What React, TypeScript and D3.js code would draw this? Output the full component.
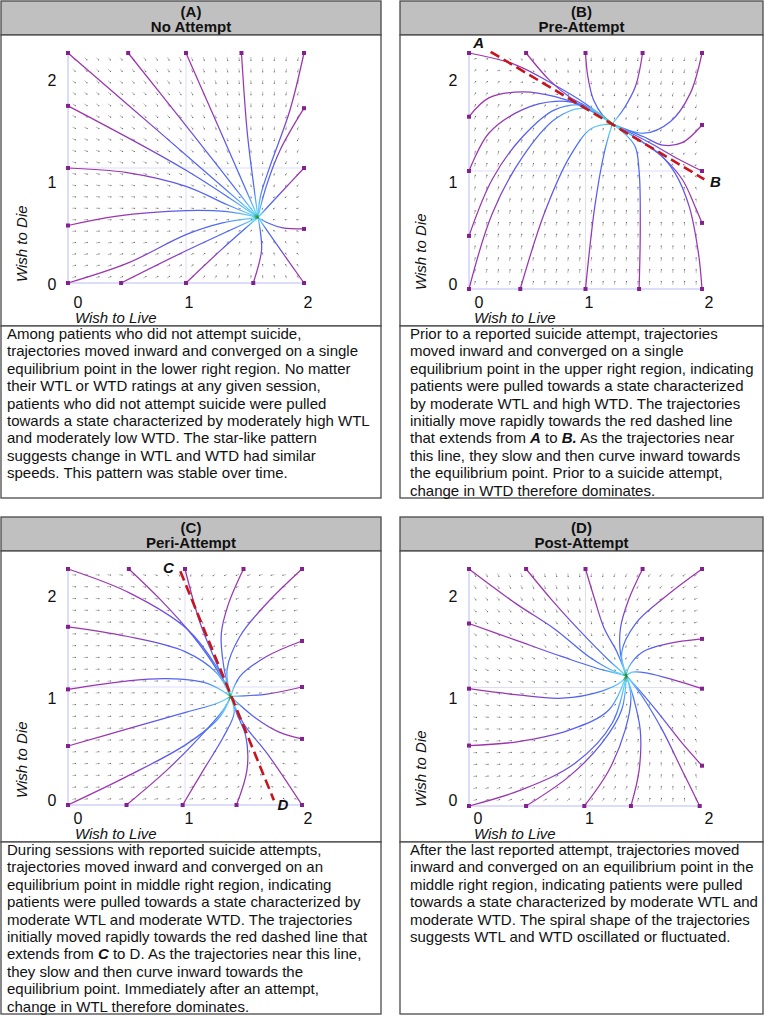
import React from 'react';
import * as d3 from 'd3';

type Pt = [number, number];

// ---------- data ----------
const panelLetters = ['(A)', '(B)', '(C)', '(D)'];
const panelTitles = ['No Attempt', 'Pre-Attempt', 'Peri-Attempt', 'Post-Attempt'];
const tickValues = [0, 1, 2];
const tickLabels = ['0', '1', '2'];
const xAxisTitle = 'Wish to Live';
const yAxisTitle = 'Wish to Die';
const fieldSamples = d3.range(0.05, 2, 0.1);

const equilibriumA: Pt = [1.61, 0.57];
const equilibriumB: Pt = [1.23, 1.4];
const equilibriumC: Pt = [1.39, 0.92];
const equilibriumD: Pt = [1.35, 1.1];

const jacobianA = [[-1, 0], [0, -1]];
const jacobianB = [[-0.39, -0.24], [-0.95, -1.86]];
const jacobianC = [[-1.93, -0.69], [-0.17, -0.32]];
const jacobianD = [[-1, -0.45], [0.45, -1]];

const trajectoriesA: Pt[][] = [
  [[0, 2], [0.8, 1.29], [1.61, 0.57]],
  [[0.51, 2], [1.06, 1.29], [1.61, 0.57]],
  [[1.0, 2], [1.3, 1.3], [1.61, 0.57]],
  [[1.47, 2], [1.52, 1.3], [1.58, 0.8], [1.61, 0.57]],
  [[2, 2], [1.88, 1.5], [1.71, 1.01], [1.63, 0.75], [1.61, 0.57]],
  [[2, 1.52], [1.8, 1.16], [1.68, 0.84], [1.61, 0.57]],
  [[2, 1.0], [1.8, 0.78], [1.61, 0.57]],
  [[2, 0.47], [1.82, 0.48], [1.7, 0.52], [1.61, 0.57]],
  [[2, 0], [1.8, 0.29], [1.61, 0.57]],
  [[1.57, 0], [1.64, 0.28], [1.63, 0.45], [1.61, 0.57]],
  [[1.0, 0], [1.3, 0.29], [1.61, 0.57]],
  [[0.45, 0], [1.0, 0.28], [1.61, 0.57]],
  [[0, 0], [0.5, 0.17], [1.0, 0.42], [1.3, 0.52], [1.61, 0.57]],
  [[0, 0.5], [0.4, 0.58], [1.0, 0.63], [1.35, 0.62], [1.61, 0.57]],
  [[0, 1.0], [0.5, 0.96], [1.0, 0.84], [1.35, 0.68], [1.61, 0.57]],
  [[0, 1.54], [1.0, 0.98], [1.61, 0.57]],
];

const trajectoriesB: Pt[][] = [
  [[0, 2], [0.4, 1.9], [0.75, 1.72], [1.0, 1.57], [1.23, 1.4]],
  [[0.49, 2], [0.69, 1.77], [0.86, 1.63], [1.06, 1.52], [1.23, 1.4]],
  [[1.0, 2], [1.02, 1.8], [1.07, 1.6], [1.15, 1.47], [1.23, 1.4]],
  [[1.49, 2], [1.43, 1.72], [1.33, 1.53], [1.23, 1.4]],
  [[2, 2], [1.9, 1.66], [1.73, 1.42], [1.5, 1.32], [1.23, 1.4]],
  [[2, 1.39], [1.83, 1.24], [1.66, 1.22], [1.5, 1.29], [1.23, 1.4]],
  [[2, 1.0], [1.8, 1.1], [1.55, 1.24], [1.23, 1.4]],
  [[2, 0.56], [1.94, 0.7], [1.83, 0.93], [1.66, 1.12], [1.45, 1.27], [1.23, 1.4]],
  [[2, 0], [1.97, 0.3], [1.89, 0.7], [1.77, 0.98], [1.63, 1.15], [1.45, 1.27], [1.23, 1.4]],
  [[1.46, 0], [1.47, 0.5], [1.46, 1.0], [1.42, 1.22], [1.23, 1.4]],
  [[1.0, 0], [1.08, 0.7], [1.16, 1.15], [1.23, 1.4]],
  [[0.44, 0], [0.65, 0.65], [0.87, 1.13], [1.05, 1.36], [1.23, 1.4]],
  [[0, 0], [0.2, 0.64], [0.46, 1.12], [0.74, 1.44], [0.97, 1.53], [1.23, 1.4]],
  [[0, 0.45], [0.2, 0.93], [0.46, 1.29], [0.74, 1.52], [1.0, 1.55], [1.23, 1.4]],
  [[0, 1.0], [0.17, 1.32], [0.46, 1.52], [0.74, 1.59], [0.97, 1.56], [1.23, 1.4]],
  [[0, 1.46], [0.17, 1.62], [0.46, 1.67], [0.74, 1.63], [0.97, 1.55], [1.23, 1.4]],
];

const trajectoriesC: Pt[][] = [
  [[0, 2], [0.52, 1.8], [1.02, 1.49], [1.27, 1.17], [1.39, 0.92]],
  [[0.52, 2], [0.79, 1.74], [1.07, 1.43], [1.27, 1.15], [1.39, 0.92]],
  [[1.0, 2], [1.13, 1.54], [1.27, 1.2], [1.39, 0.92]],
  [[1.5, 2], [1.37, 1.7], [1.31, 1.45], [1.33, 1.18], [1.39, 0.92]],
  [[2, 2], [1.7, 1.71], [1.47, 1.43], [1.36, 1.15], [1.39, 0.92]],
  [[2, 1.39], [1.7, 1.26], [1.47, 1.09], [1.39, 0.92]],
  [[2, 1.0], [1.7, 0.94], [1.39, 0.92]],
  [[2, 0.56], [1.8, 0.62], [1.6, 0.74], [1.39, 0.92]],
  [[2, 0], [1.7, 0.44], [1.5, 0.69], [1.39, 0.92]],
  [[1.44, 0], [1.53, 0.3], [1.52, 0.58], [1.44, 0.78], [1.39, 0.92]],
  [[0.98, 0], [1.16, 0.3], [1.33, 0.58], [1.42, 0.78], [1.39, 0.92]],
  [[0.5, 0], [0.85, 0.3], [1.13, 0.58], [1.33, 0.81], [1.39, 0.92]],
  [[0, 0], [0.5, 0.24], [1.02, 0.52], [1.3, 0.75], [1.39, 0.92]],
  [[0, 0.5], [0.56, 0.66], [1.02, 0.79], [1.27, 0.86], [1.39, 0.92]],
  [[0, 0.98], [0.5, 1.05], [0.85, 1.07], [1.19, 1.03], [1.39, 0.92]],
  [[0, 1.51], [0.5, 1.43], [1.0, 1.3], [1.27, 1.12], [1.39, 0.92]],
];

const trajectoriesD: Pt[][] = [
  [[0, 2], [0.4, 1.71], [0.74, 1.49], [1.03, 1.26], [1.26, 1.13], [1.35, 1.1]],
  [[0.49, 2], [0.71, 1.74], [0.94, 1.49], [1.2, 1.23], [1.35, 1.1]],
  [[1.0, 2], [1.08, 1.74], [1.16, 1.5], [1.27, 1.3], [1.35, 1.1]],
  [[1.49, 2], [1.37, 1.74], [1.3, 1.5], [1.3, 1.29], [1.35, 1.1]],
  [[2, 2], [1.69, 1.77], [1.43, 1.54], [1.31, 1.29], [1.35, 1.1]],
  [[2, 1.41], [1.71, 1.37], [1.49, 1.3], [1.37, 1.17], [1.35, 1.1]],
  [[2, 0.99], [1.77, 1.06], [1.54, 1.12], [1.4, 1.13], [1.35, 1.1]],
  [[2, 0.34], [1.83, 0.53], [1.63, 0.78], [1.46, 0.98], [1.35, 1.1]],
  [[1.98, 0], [1.83, 0.3], [1.66, 0.64], [1.49, 0.92], [1.35, 1.1]],
  [[1.39, 0], [1.46, 0.3], [1.47, 0.64], [1.41, 0.92], [1.35, 1.1]],
  [[0.99, 0], [1.2, 0.3], [1.34, 0.64], [1.39, 0.92], [1.35, 1.1]],
  [[0.49, 0], [0.86, 0.25], [1.14, 0.53], [1.31, 0.81], [1.35, 1.1]],
  [[0, 0], [0.46, 0.14], [0.91, 0.36], [1.23, 0.7], [1.35, 1.1]],
  [[0, 0.51], [0.4, 0.54], [0.86, 0.64], [1.2, 0.81], [1.35, 1.1]],
  [[0, 0.99], [0.4, 0.94], [0.8, 0.91], [1.14, 0.97], [1.31, 1.05], [1.35, 1.1]],
  [[0, 1.54], [0.4, 1.4], [0.8, 1.26], [1.14, 1.15], [1.35, 1.1]],
];

const dashedLineB: Pt[] = [[0.186, 2.01], [2.02, 0.93]];
const dashedLabelsB = ['A', 'B'];
const dashedLineC: Pt[] = [[0.96, 1.98], [1.76, 0.04]];
const dashedLabelsC = ['C', 'D'];

const captionA = [
  'Among patients who did not attempt suicide,',
  'trajectories moved inward and converged on a single',
  'equilibrium point in the lower right region. No matter',
  'their WTL or WTD ratings at any given session,',
  'patients who did not attempt suicide were pulled',
  'towards a state characterized by moderately high WTL',
  'and moderately low WTD. The star-like pattern',
  'suggests change in WTL and WTD had similar',
  'speeds. This pattern was stable over time.',
];
const captionB = [
  'Prior to a reported suicide attempt, trajectories',
  'moved inward and converged on a single',
  'equilibrium point in the upper right region, indicating',
  'patients were pulled towards a state characterized',
  'by moderate WTL and high WTD. The trajectories',
  'initially move rapidly towards the red dashed line',
  'that extends from **A** to **B.** As the trajectories near',
  'this line, they slow and then curve inward towards',
  'the equilibrium point. Prior to a suicide attempt,',
  'change in WTD therefore dominates.',
];
const captionC = [
  'During sessions with reported suicide attempts,',
  'trajectories moved inward and converged on an',
  'equilibrium point in middle right region, indicating',
  'patients were pulled towards a state characterized by',
  'moderate WTL and moderate WTD. The trajectories',
  'initially moved rapidly towards the red dashed line that',
  'extends from **C** to D. As the trajectories near this line,',
  'they slow and then curve inward towards the',
  'equilibrium point. Immediately after an attempt,',
  'change in WTL therefore dominates.',
];
const captionD = [
  'After the last reported attempt, trajectories moved',
  'inward and converged on an equilibrium point in the',
  'middle right region, indicating patients were pulled',
  'towards a state characterized by moderate WTL and',
  'moderate WTD. The spiral shape of the trajectories',
  'suggests WTL and WTD oscillated or fluctuated.',
];

// ---------- layout / style ----------
const FONT = '"Liberation Sans", Arial, Helvetica, sans-serif';
const stops = [
  { o: 0, c: '#a032a8' },
  { o: 0.36, c: '#9638b6' },
  { o: 0.55, c: '#5a5af0' },
  { o: 0.82, c: '#4a6ef6' },
  { o: 0.93, c: '#5cc2fb' },
  { o: 0.975, c: '#62d2f2' },
  { o: 1, c: '#1a8a1e' },
];

interface PanelCfg {
  key: string;
  bx: number; by: number; bw: number;
  plot: { l: number; r: number; t: number; b: number };
  xTickOffsets: number[];
  yLabelX: number;
  yTitleStart: number;
  eq: Pt; jac: number[][];
  traj: Pt[][];
  dashed?: Pt[]; dashedLabels?: string[]; labelOffsets?: Pt[];
  caption: string[];
}

const panels: PanelCfg[] = [
  {
    key: 'A', bx: 1, by: 1, bw: 380, plot: { l: 68, r: 304, t: 53, b: 283 },
    xTickOffsets: [10, 3, 4], yLabelX: 51, yTitleStart: 281,
    eq: equilibriumA, jac: jacobianA, traj: trajectoriesA, caption: captionA,
  },
  {
    key: 'B', bx: 400, by: 1, bw: 363, plot: { l: 469, r: 702, t: 53, b: 289 },
    xTickOffsets: [10, 3.5, 7], yLabelX: 53, yTitleStart: 289,
    eq: equilibriumB, jac: jacobianB, traj: trajectoriesB, caption: captionB,
    dashed: dashedLineB, dashedLabels: dashedLabelsB, labelOffsets: [[-12, -9], [11, 3]],
  },
  {
    key: 'C', bx: 1, by: 517, bw: 380, plot: { l: 68, r: 302, t: 569, b: 805 },
    xTickOffsets: [10, 4, 6], yLabelX: 51, yTitleStart: 281,
    eq: equilibriumC, jac: jacobianC, traj: trajectoriesC, caption: captionC,
    dashed: dashedLineC, dashedLabels: dashedLabelsC, labelOffsets: [[-12, -3], [9, 5]],
  },
  {
    key: 'D', bx: 400, by: 517, bw: 363, plot: { l: 469, r: 702, t: 569, b: 806 },
    xTickOffsets: [9, 4, 7], yLabelX: 53, yTitleStart: 290,
    eq: equilibriumD, jac: jacobianD, traj: trajectoriesD, caption: captionD,
  },
];

function renderRich(line: string) {
  const parts = line.split(/(\*\*[^*]+\*\*)/).filter((s) => s.length > 0);
  return parts.map((p, i) =>
    p.startsWith('**') ? (
      <tspan key={i} fontWeight="bold" fontStyle="italic">{p.slice(2, -2)}</tspan>
    ) : (
      <tspan key={i}>{p}</tspan>
    )
  );
}

function Panel({ cfg, idx }: { cfg: PanelCfg; idx: number }) {
  const { bx, by, bw, plot } = cfg;
  const x = d3.scaleLinear().domain([0, 2]).range([plot.l, plot.r]);
  const y = d3.scaleLinear().domain([0, 2]).range([plot.b, plot.t]);
  const xLab = d3.scaleLinear().domain(tickValues)
    .range(tickValues.map((v, i) => x(v) + cfg.xTickOffsets[i]));
  const yLab = d3.scaleLinear().domain([0, 2]).range([by + 283, by + 79]);
  const line = d3.line<Pt>().x((d) => x(d[0])).y((d) => y(d[1]))
    .curve(d3.curveCatmullRom.alpha(0.5));

  const headerH = 34;
  const plotH = 291;
  const textH = 172;
  const textTop = by + headerH + plotH;

  // vector field arrows
  const arrows: JSX.Element[] = [];
  fieldSamples.forEach((fx, i) => {
    fieldSamples.forEach((fy, j) => {
      const dx = fx - cfg.eq[0];
      const dy = fy - cfg.eq[1];
      const vx = cfg.jac[0][0] * dx + cfg.jac[0][1] * dy;
      const vy = cfg.jac[1][0] * dx + cfg.jac[1][1] * dy;
      const m = Math.hypot(vx, vy);
      if (m < 1e-6) return;
      const len = 1.2 + 2.0 * Math.min(1, Math.sqrt(m / 1.2));
      const ux = vx / m;
      const uy = -vy / m;
      const cx = x(fx);
      const cy = y(fy);
      const x1 = cx - (ux * len) / 2, y1 = cy - (uy * len) / 2;
      const x2 = cx + (ux * len) / 2, y2 = cy + (uy * len) / 2;
      arrows.push(
        <g key={`${i}-${j}`}>
          <line x1={x1} y1={y1} x2={x2} y2={y2} stroke="#b4b4b4" strokeWidth={0.9} />
          <rect x={x2 - 0.55} y={y2 - 0.55} width={1.1} height={1.1} fill="#6a6a6a" />
        </g>
      );
    });
  });

  return (
    <g>
      {/* header */}
      <rect x={bx} y={by} width={bw} height={headerH} fill="#c0c0c0" stroke="#4a4a4a" strokeWidth={1.3} />
      <text x={bx + bw / 2} y={by + 16} textAnchor="middle" fontFamily={FONT} fontWeight="bold" fontSize={15} fill="#111">
        {panelLetters[idx]}
      </text>
      <text x={bx + bw / 2} y={by + 31} textAnchor="middle" fontFamily={FONT} fontWeight="bold" fontSize={15} fill="#111">
        {panelTitles[idx]}
      </text>
      {/* plot area */}
      <rect x={bx} y={by + headerH} width={bw} height={plotH} fill="#fff" stroke="#4a4a4a" strokeWidth={1.3} />
      <defs>
        {cfg.traj.map((t, k) => {
          const s = t[0];
          const e = t[t.length - 1];
          return (
            <linearGradient key={k} id={`grad-${cfg.key}-${k}`} gradientUnits="userSpaceOnUse"
              x1={x(s[0])} y1={y(s[1])} x2={x(e[0])} y2={y(e[1])}>
              {stops.map((st, q) => (
                <stop key={q} offset={st.o} stopColor={st.c} />
              ))}
            </linearGradient>
          );
        })}
      </defs>
      {/* grid lines */}
      <line x1={x(1)} x2={x(1)} y1={y(0)} y2={y(2)} stroke="#dcdcfb" strokeWidth={1} />
      <line x1={x(0)} x2={x(2)} y1={y(1)} y2={y(1)} stroke="#dcdcfb" strokeWidth={1} />
      <line x1={x(0)} x2={x(0)} y1={y(0)} y2={y(2)} stroke="#b9b9fb" strokeWidth={1} />
      <line x1={x(0)} x2={x(2)} y1={y(0)} y2={y(0)} stroke="#b9b9fb" strokeWidth={1} />
      {arrows}
      {/* trajectories */}
      {cfg.traj.map((t, k) => (
        <path key={k} d={line(t) || ''} fill="none" stroke={`url(#grad-${cfg.key}-${k})`} strokeWidth={1.25} />
      ))}
      {cfg.traj.map((t, k) => (
        <rect key={k} x={x(t[0][0]) - 2} y={y(t[0][1]) - 2} width={4} height={4} fill="#85208f" />
      ))}
      {/* dashed guide */}
      {cfg.dashed && (
        <g>
          <line x1={x(cfg.dashed[0][0])} y1={y(cfg.dashed[0][1])} x2={x(cfg.dashed[1][0])} y2={y(cfg.dashed[1][1])}
            stroke="#c8141c" strokeWidth={2.6} strokeDasharray="10,5" />
          {cfg.dashedLabels!.map((lab, k) => (
            <text key={k} x={x(cfg.dashed![k][0]) + cfg.labelOffsets![k][0]} y={y(cfg.dashed![k][1]) + cfg.labelOffsets![k][1] + 5}
              textAnchor="middle" fontFamily={FONT} fontWeight="bold" fontStyle="italic" fontSize={15} fill="#111">
              {lab}
            </text>
          ))}
        </g>
      )}
      {/* tick labels */}
      {tickValues.map((v, k) => (
        <text key={`x${k}`} x={xLab(v)} y={by + 307} textAnchor="middle" fontFamily={FONT} fontSize={16} fill="#111">
          {tickLabels[k]}
        </text>
      ))}
      {tickValues.map((v, k) => (
        <text key={`y${k}`} x={bx + cfg.yLabelX} y={yLab(v) + 5.8} textAnchor="middle" fontFamily={FONT} fontSize={16} fill="#111">
          {tickLabels[k]}
        </text>
      ))}
      <text x={bx + 74} y={by + 322} fontFamily={FONT} fontStyle="italic" fontSize={15} fill="#111">
        {xAxisTitle}
      </text>
      <text transform={`translate(${bx + 26},${by + cfg.yTitleStart}) rotate(-90)`} fontFamily={FONT} fontStyle="italic" fontSize={15} fill="#111">
        {yAxisTitle}
      </text>
      {/* caption */}
      <rect x={bx} y={textTop} width={bw} height={textH} fill="#fff" stroke="#4a4a4a" strokeWidth={1.3} />
      <text fontFamily={FONT} fontSize={15} fill="#111">
        {cfg.caption.map((ln, k) => (
          <tspan key={k} x={bx + (idx % 2 === 0 ? 6 : 10)} y={textTop + 13 + k * 17.4}>
            {renderRich(ln)}
          </tspan>
        ))}
      </text>
    </g>
  );
}

export default function App() {
  return (
    <svg width={764} height={1016} viewBox="0 0 764 1016"
      style={{ position: 'absolute', left: 0, top: 0, background: '#fff' }}>
      <rect x={0} y={0} width={764} height={1016} fill="#fff" />
      {panels.map((p, i) => (
        <Panel key={p.key} cfg={p} idx={i} />
      ))}
    </svg>
  );
}
